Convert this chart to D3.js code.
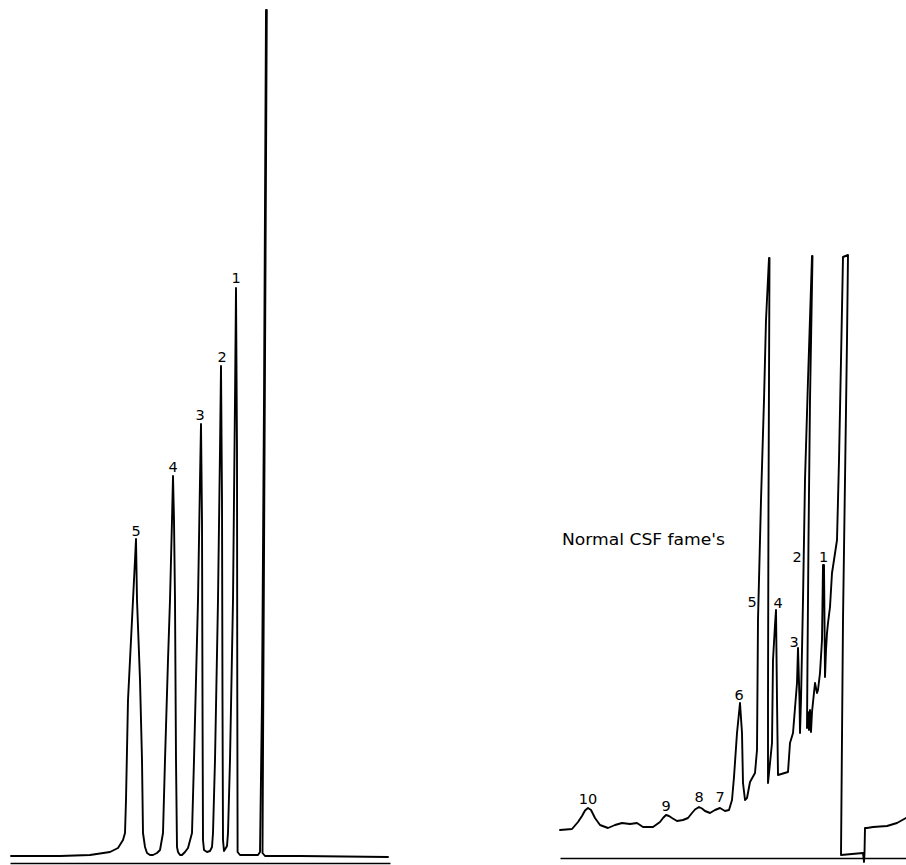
<!DOCTYPE html>
<html>
<head>
<meta charset="utf-8">
<script src="https://cdn.jsdelivr.net/npm/d3@7"></script>
<style>
  html, body { margin: 0; padding: 0; background: #fff; }
  svg { display: block; }
  .trace { fill: none; stroke: #000; stroke-width: 1.9; stroke-linejoin: round; stroke-linecap: round; }
  .lbl { font-family: "DejaVu Sans", sans-serif; font-size: 14.5px; fill: #000; }
  .title { font-family: "DejaVu Sans", sans-serif; font-size: 16px; fill: #000; }
  .axis path { stroke: #000; stroke-width: 1.5; }
</style>
</head>
<body>
<svg id="chart" width="906" height="865"></svg>
<script>
// ---------- Left chromatogram (standards) ----------
// time along chart (chart-cm), detector response (chart-cm)
const leftTime = [0.1, 5.0, 8.0, 10.0, 10.8, 11.3, 11.5, 11.6, 11.8, 12.1, 12.3, 12.5, 12.6,
  12.7, 13.0, 13.2, 13.3, 13.5, 13.7, 14.0, 14.3, 14.7, 15.0, 15.3, 15.5, 15.8, 16.0, 16.2, 16.3,
  16.4, 16.5, 16.6, 16.7, 16.8, 17.0, 17.2, 17.5, 17.8, 18.2, 18.4, 18.6, 18.8, 19.0, 19.1,
  19.2, 19.25, 19.3, 19.4, 19.7, 20.0, 20.2, 20.3, 20.5, 20.8, 21.0, 21.1,
  21.2, 21.25, 21.3, 21.4, 21.7, 21.8, 22.0, 22.3, 22.5, 22.6,
  22.7, 22.73, 22.76, 23.0, 24.8, 25.0, 25.2, 25.4, 25.6, 25.68, 25.25, 25.5, 29.0, 37.8];
const leftResponse = [0.7, 0.7, 0.8, 1.1, 1.5, 2.3, 3.0, 6.3, 16.3, 22.3, 26.3, 30.3, 32.4,
  26.3, 18.3, 10.3, 3.0, 1.6, 1.0, 0.8, 0.8, 1.0, 1.3, 3.0, 10.3, 20.3, 26.3, 34.3, 38.7,
  34.3, 26.3, 10.3, 1.6, 1.1, 0.8, 0.8, 1.1, 1.5, 3.0, 10.3, 18.3, 26.3, 38.3, 43.9,
  34.3, 16.3, 2.3, 1.3, 1.1, 1.2, 1.6, 3.0, 10.3, 26.3, 41.3, 49.7,
  36.3, 16.3, 2.3, 1.2, 1.7, 3.0, 10.3, 26.3, 46.3, 57.5,
  41.3, 16.3, 1.1, 0.8, 0.8, 1.1, 16.3, 46.3, 85.3, 85.3, 1.0, 0.7, 0.7, 0.6];
const leftLabels = ["5", "4", "3", "2", "1"];
const leftLabelTime = [12.6, 16.3, 19.0, 21.2, 22.6];
const leftLabelResponse = [32.7, 39.1, 44.3, 50.1, 58.0];

// ---------- Right chromatogram (Normal CSF FAMEs) ----------
const rightTime = [0.0, 1.2, 1.8, 2.2, 2.5, 2.8, 3.1, 3.5, 4.0, 4.8, 5.5, 6.2, 7.0, 7.7, 8.3, 9.3,
  10.0, 10.3, 10.6, 10.9, 11.2, 11.7, 12.3, 12.8, 13.2, 13.5, 13.9, 14.2, 14.5, 15.0, 15.5, 16.0, 16.5, 16.9,
  17.2, 17.4, 17.7, 18.0, 18.2, 18.3, 18.5, 18.7, 19.0, 19.5, 19.7, 19.8, 20.1, 20.4,
  20.6, 20.9, 20.95, 20.85, 20.8, 20.8, 21.2, 21.3, 21.5, 21.6, 21.7, 21.8, 22.8, 23.0,
  23.3, 23.7, 23.8, 23.95, 24.0, 24.1, 24.3, 24.5, 24.8, 25.2, 25.25, 25.0, 24.85, 24.75,
  24.7, 24.8, 24.9, 25.0, 25.1, 25.2, 25.5, 25.7, 25.8, 26.0, 26.2, 26.3, 26.4, 26.5,
  26.6, 26.7, 26.8, 27.0, 27.2, 27.4, 27.7, 27.9, 28.1, 28.3, 28.8, 28.7, 28.5, 28.3,
  28.1, 30.3, 30.4, 30.45, 30.5, 30.7, 31.3, 32.7, 33.7, 34.6];
const rightResponse = [2.8, 2.9, 3.6, 4.2, 4.75, 5.0, 4.8, 4.0, 3.3, 3.0, 3.3, 3.5, 3.4, 3.5, 3.1, 3.1,
  3.6, 4.0, 4.3, 4.2, 4.0, 3.7, 3.8, 4.0, 4.5, 4.85, 5.1, 4.95, 4.7, 4.5, 4.8, 5.0, 4.7, 4.8,
  5.8, 8.1, 12.5, 15.5, 12.5, 7.5, 5.8, 6.0, 7.6, 8.5, 10.8, 23.8, 35.8, 45.8,
  53.8, 60.0, 60.0, 35.8, 15.8, 7.5, 11.5, 19.8, 23.3, 24.8, 15.8, 8.3, 8.6, 11.5,
  12.5, 17.5, 21.0, 15.8, 12.5, 15.8, 25.8, 37.8, 47.8, 60.2, 60.2, 45.8, 31.8, 19.8,
  13.0, 14.6, 12.8, 14.8, 12.6, 14.6, 17.5, 16.5, 16.8, 18.5, 21.8, 29.3, 29.3, 18.1,
  20.8, 22.5, 23.5, 25.1, 28.5, 29.8, 31.8, 39.8, 49.8, 60.1, 60.3, 51.8, 37.8, 23.8,
  0.3, 0.5, -0.4, 0.5, 3.0, 3.0, 3.1, 3.2, 3.5, 4.0];
const rightLabels = ["10", "9", "8", "7", "6", "5", "4", "3", "2", "1"];
const rightLabelTime = [2.8, 10.6, 13.9, 16.0, 17.9, 19.2, 21.8, 23.4, 23.7, 26.35];
const rightLabelResponse = [5.4, 4.7, 5.6, 5.6, 15.8, 25.1, 25.0, 21.1, 29.6, 29.6];
const rightTitle = "Normal CSF fame's";
const rightTitlePos = [0.2, 31.3];

// ---------- Drawing ----------
const svg = d3.select("#chart");

function panel(g, time, resp, labels, lt, lr, xDom, xRange, yDom, yRange) {
  const x = d3.scaleLinear().domain(xDom).range(xRange);
  const y = d3.scaleLinear().domain(yDom).range(yRange);
  const data = time.map((t, i) => [t, resp[i]]);
  g.append("g").attr("class", "axis")
    .attr("transform", `translate(0,${y(0)})`)
    .call(d3.axisBottom(x).ticks(0).tickSizeOuter(0));
  g.append("path").datum(data).attr("class", "trace")
    .attr("d", d3.line().x(d => x(d[0])).y(d => y(d[1])));
  g.selectAll("text.lbl").data(labels).enter().append("text")
    .attr("class", "lbl").attr("text-anchor", "middle")
    .attr("x", (d, i) => x(lt[i])).attr("y", (d, i) => y(lr[i]))
    .text(d => d);
  return { x, y };
}

const gL = svg.append("g");
panel(gL, leftTime, leftResponse, leftLabels, leftLabelTime, leftLabelResponse,
  [0, 38], [10, 390], [0, 85.3], [863, 10]);

const gR = svg.append("g");
const sR = panel(gR, rightTime, rightResponse, rightLabels, rightLabelTime, rightLabelResponse,
  [0, 34.6], [560, 906], [0, 84.8], [858, 10]);

gR.append("text").attr("class", "title")
  .attr("x", sR.x(rightTitlePos[0])).attr("y", sR.y(rightTitlePos[1]))
  .attr("textLength", 163).attr("lengthAdjust", "spacingAndGlyphs")
  .text(rightTitle);
</script>
</body>
</html>
